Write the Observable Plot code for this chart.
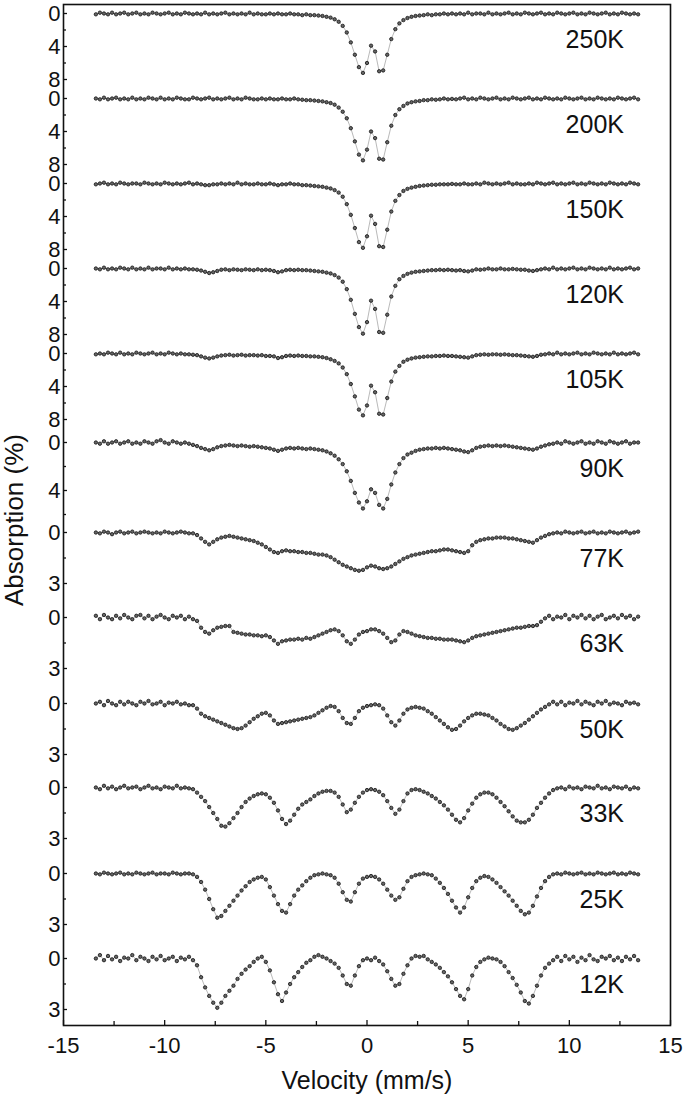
<!DOCTYPE html>
<html><head><meta charset="utf-8">
<script src="https://cdn.jsdelivr.net/npm/d3@7"></script>
<script src="https://cdn.jsdelivr.net/npm/@observablehq/plot@0.6"></script>
<style>body{margin:0;background:#fff}</style>
</head><body><div id="chart"></div>
<script>
// ---------- data ----------
const temperatures = ["250K","200K","150K","120K","105K","90K","77K","63K","50K","33K","25K","12K"];

const velocity = [
-13.4,-13.2,-13.0,-12.8,-12.6,-12.4,-12.2,-12.0,-11.8,-11.6,
-11.4,-11.2,-11.0,-10.8,-10.6,-10.4,-10.2,-10.0,-9.8,-9.6,
-9.4,-9.2,-9.0,-8.8,-8.6,-8.4,-8.2,-8.0,-7.8,-7.6,
-7.4,-7.2,-7.0,-6.8,-6.6,-6.4,-6.2,-6.0,-5.8,-5.6,
-5.4,-5.2,-5.0,-4.8,-4.6,-4.4,-4.2,-4.0,-3.8,-3.6,
-3.4,-3.2,-3.0,-2.8,-2.6,-2.4,-2.2,-2.0,-1.8,-1.6,
-1.4,-1.2,-1.0,-0.8,-0.6,-0.4,-0.2,0.0,0.2,0.4,
0.6,0.8,1.0,1.2,1.4,1.6,1.8,2.0,2.2,2.4,
2.6,2.8,3.0,3.2,3.4,3.6,3.8,4.0,4.2,4.4,
4.6,4.8,5.0,5.2,5.4,5.6,5.8,6.0,6.2,6.4,
6.6,6.8,7.0,7.2,7.4,7.6,7.8,8.0,8.2,8.4,
8.6,8.8,9.0,9.2,9.4,9.6,9.8,10.0,10.2,10.4,
10.6,10.8,11.0,11.2,11.4,11.6,11.8,12.0,12.2,12.4,
12.6,12.8,13.0,13.2,13.4];

const a250 = [
0.1,-0.1,0.0,0.1,-0.1,0.1,0.0,-0.1,0.1,0.0,
-0.1,0.1,0.0,0.1,-0.1,0.0,0.1,0.0,-0.1,0.1,
0.0,0.1,-0.1,0.0,0.1,0.0,0.1,-0.1,0.1,0.0,
0.1,0.0,-0.1,0.1,0.0,0.1,0.0,0.1,-0.1,0.1,
0.0,0.1,0.1,0.0,0.1,0.0,0.1,0.1,0.0,0.1,
0.1,0.2,0.1,0.2,0.2,0.25,0.3,0.4,0.5,0.7,
1.0,1.5,2.3,3.5,5.0,6.5,7.2,6.0,3.9,4.6,
7.0,6.9,5.0,3.1,1.9,1.2,0.8,0.55,0.4,0.3,
0.25,0.2,0.1,0.2,0.1,0.1,0.0,0.1,0.0,0.1,
0.0,0.1,-0.1,0.1,0.0,0.0,0.1,-0.1,0.1,0.0,
0.1,0.0,-0.1,0.1,0.0,0.1,-0.1,0.0,0.1,0.0,
-0.1,0.1,0.0,0.1,-0.1,0.0,0.1,0.0,-0.1,0.1,
0.0,0.1,-0.1,0.0,0.1,0.0,-0.1,0.1,0.0,0.1,
-0.1,0.0,0.1,0.0,0.1];

const a200 = [
0.0,0.1,-0.1,0.1,0.0,-0.1,0.1,0.0,0.1,-0.1,
0.1,0.0,0.1,-0.1,0.0,0.1,-0.1,0.1,0.0,0.1,
-0.1,0.0,0.1,0.1,-0.1,0.0,0.1,0.0,-0.1,0.1,
0.0,0.1,0.0,-0.1,0.1,0.0,0.1,-0.1,0.0,0.1,
0.1,0.0,0.1,0.0,0.1,0.1,0.0,0.1,0.1,0.0,
0.1,0.15,0.2,0.2,0.25,0.3,0.35,0.45,0.55,0.75,
1.1,1.6,2.4,3.6,5.2,6.8,7.5,6.2,4.0,4.8,
7.3,7.4,5.3,3.3,2.0,1.3,0.9,0.6,0.45,0.35,
0.3,0.2,0.2,0.1,0.15,0.1,0.0,0.1,0.05,0.1,
0.0,-0.1,0.1,0.0,0.1,-0.1,0.0,0.1,0.0,-0.1,
0.1,0.0,0.1,-0.1,0.0,0.1,0.0,-0.1,0.1,0.0,
0.1,-0.1,0.0,0.1,0.0,0.1,-0.1,0.0,0.1,0.0,
-0.1,0.1,0.0,0.1,-0.1,0.0,0.1,0.0,0.1,-0.1,
0.0,0.1,0.0,-0.1,0.1];

const a150 = [
0.1,0.0,-0.1,0.1,0.0,0.1,-0.1,0.0,0.1,0.0,
0.0,0.1,-0.1,0.0,0.1,0.0,0.1,-0.1,0.0,0.1,
0.0,0.1,0.0,-0.1,0.1,0.0,0.1,0.2,0.2,0.1,
0.1,0.0,0.1,0.0,0.1,-0.1,0.1,0.0,0.1,0.1,
0.0,0.1,0.1,0.0,0.1,0.2,0.1,0.1,0.0,0.1,
0.1,0.2,0.2,0.25,0.3,0.35,0.4,0.5,0.6,0.8,
1.1,1.6,2.5,3.8,5.4,7.1,7.8,6.4,3.9,4.9,
7.6,7.7,5.6,3.4,2.1,1.4,0.9,0.65,0.5,0.4,
0.3,0.25,0.2,0.15,0.15,0.1,0.1,0.1,0.05,0.1,
0.1,0.0,0.1,0.1,0.0,0.1,-0.1,0.0,0.1,0.0,
0.1,0.0,-0.1,0.1,0.0,0.1,0.1,0.0,0.1,-0.1,
0.0,0.1,0.0,-0.1,0.1,0.0,0.1,0.0,-0.1,0.1,
0.0,0.1,-0.1,0.0,0.1,0.0,0.1,-0.1,0.0,0.1,
0.0,0.1,-0.1,0.0,0.1];

const a120 = [
0.0,0.1,-0.1,0.1,0.0,0.1,-0.1,0.0,0.1,-0.1,
0.1,0.0,0.1,-0.1,0.1,0.0,0.0,0.1,-0.1,0.1,
0.0,0.1,0.0,0.1,0.1,0.15,0.25,0.4,0.55,0.45,
0.3,0.15,0.1,0.2,0.1,0.15,0.2,0.1,0.15,0.2,
0.1,0.2,0.15,0.2,0.3,0.45,0.35,0.2,0.15,0.2,
0.15,0.2,0.2,0.25,0.3,0.35,0.4,0.5,0.6,0.8,
1.1,1.6,2.5,3.8,5.5,7.1,7.9,6.5,3.9,4.9,
7.7,7.8,5.6,3.4,2.1,1.3,0.9,0.65,0.5,0.4,
0.35,0.3,0.25,0.2,0.2,0.15,0.2,0.15,0.2,0.25,
0.2,0.3,0.35,0.25,0.1,0.15,0.1,0.0,0.1,0.1,
0.0,0.1,0.1,0.05,0.1,0.15,0.15,0.25,0.3,0.2,
0.1,0.0,0.1,-0.1,0.1,0.0,0.1,0.0,-0.1,0.1,
0.0,0.1,-0.1,0.0,0.1,0.0,0.1,-0.1,0.1,0.0,
0.1,0.0,-0.1,0.1,0.0];

const a105 = [
0.1,0.0,0.1,-0.1,0.0,0.1,-0.1,0.1,0.0,0.1,
-0.1,0.0,0.1,0.0,-0.1,0.1,0.0,0.1,-0.1,0.0,
0.1,0.0,0.1,0.1,0.15,0.2,0.35,0.5,0.6,0.5,
0.35,0.25,0.2,0.15,0.25,0.2,0.15,0.25,0.2,0.2,
0.25,0.2,0.3,0.3,0.35,0.55,0.45,0.3,0.25,0.3,
0.25,0.3,0.3,0.35,0.35,0.4,0.45,0.55,0.7,0.9,
1.2,1.7,2.5,3.7,5.2,6.8,7.5,6.3,3.9,4.7,
7.3,7.4,5.4,3.4,2.2,1.5,1.0,0.75,0.6,0.5,
0.45,0.4,0.35,0.35,0.3,0.3,0.25,0.3,0.3,0.35,
0.4,0.45,0.5,0.35,0.2,0.15,0.1,0.15,0.1,0.1,
0.15,0.1,0.15,0.2,0.2,0.25,0.3,0.35,0.4,0.3,
0.15,0.1,0.0,0.1,-0.1,0.1,0.0,0.1,0.0,-0.1,
0.1,0.0,0.1,-0.1,0.0,0.1,0.0,0.1,-0.1,0.1,
0.0,0.1,0.0,-0.1,0.1];

const a90 = [
0.0,0.1,-0.1,0.1,0.0,-0.1,0.1,0.0,-0.1,0.1,
0.0,0.1,-0.1,0.0,0.1,-0.1,-0.2,0.0,0.1,-0.1,
0.0,0.1,0.0,0.1,0.2,0.3,0.45,0.55,0.65,0.55,
0.4,0.3,0.25,0.2,0.25,0.3,0.25,0.3,0.35,0.3,
0.35,0.4,0.45,0.5,0.6,0.7,0.6,0.5,0.45,0.5,
0.45,0.5,0.55,0.5,0.55,0.6,0.65,0.75,0.9,1.1,
1.4,1.8,2.4,3.2,4.2,5.0,5.5,4.9,3.9,4.2,
5.2,5.5,4.7,3.5,2.5,1.8,1.3,1.0,0.85,0.7,
0.6,0.55,0.5,0.5,0.45,0.5,0.45,0.5,0.55,0.6,
0.65,0.75,0.8,0.65,0.45,0.35,0.3,0.25,0.3,0.25,
0.3,0.25,0.3,0.35,0.4,0.45,0.5,0.55,0.6,0.5,
0.35,0.25,0.15,0.1,0.0,0.1,-0.1,0.0,0.1,0.0,
-0.1,0.1,0.0,0.1,-0.1,0.0,0.1,-0.1,0.0,0.1,
0.0,-0.1,0.1,0.0,0.0];

const a77 = [
0.0,0.05,-0.05,0.0,0.1,0.0,-0.05,0.05,0.0,-0.05,
0.05,0.0,-0.05,0.0,0.05,0.0,0.05,-0.05,0.0,0.05,
0.0,-0.05,0.0,0.05,0.05,0.15,0.35,0.55,0.7,0.55,
0.4,0.3,0.25,0.2,0.25,0.3,0.35,0.4,0.45,0.5,
0.6,0.7,0.85,1.0,1.15,1.2,1.1,1.05,1.1,1.1,
1.15,1.15,1.2,1.2,1.25,1.3,1.3,1.35,1.45,1.6,
1.75,1.9,2.0,2.1,2.2,2.25,2.2,2.05,1.95,2.0,
2.1,2.15,2.1,2.0,1.85,1.7,1.55,1.45,1.35,1.3,
1.25,1.2,1.15,1.1,1.1,1.05,1.0,1.0,1.05,1.1,
1.15,1.2,1.1,0.75,0.55,0.45,0.4,0.35,0.35,0.3,
0.3,0.3,0.35,0.35,0.4,0.45,0.5,0.55,0.6,0.45,
0.3,0.2,0.1,0.05,0.0,0.05,-0.05,0.0,0.05,0.0,
-0.05,0.05,0.0,-0.05,0.05,0.0,0.05,-0.05,0.0,0.05,
0.0,-0.05,0.05,0.0,-0.05];

const a63 = [
-0.1,0.1,-0.15,0.0,0.1,-0.1,0.05,-0.15,0.0,0.1,
-0.1,-0.15,0.05,-0.1,0.1,-0.05,-0.15,0.0,0.1,-0.1,
0.0,-0.1,0.1,-0.05,0.1,0.2,0.6,0.85,0.95,0.75,
0.6,0.55,0.5,0.5,0.85,0.9,0.95,1.0,1.0,1.05,
1.05,1.1,1.05,1.15,1.35,1.55,1.4,1.35,1.3,1.3,
1.25,1.3,1.2,1.25,1.15,1.05,0.95,0.85,0.75,0.7,
0.8,1.05,1.4,1.55,1.3,1.0,0.85,0.8,0.7,0.7,
0.8,0.95,1.2,1.45,1.35,1.0,0.8,0.85,0.95,1.05,
1.1,1.15,1.2,1.2,1.25,1.25,1.3,1.3,1.3,1.35,
1.4,1.45,1.35,1.2,1.1,1.05,1.0,0.95,0.9,0.85,
0.8,0.75,0.7,0.65,0.6,0.6,0.55,0.5,0.5,0.45,
0.25,0.05,-0.1,0.1,-0.05,0.0,-0.15,0.1,-0.1,0.0,
-0.15,0.05,-0.1,0.1,-0.05,-0.15,0.1,0.0,-0.1,0.05,
-0.15,0.0,-0.1,0.1,-0.05];

const a50 = [
0.0,-0.1,0.1,-0.15,0.0,0.1,-0.1,0.05,-0.1,0.0,
0.1,-0.1,0.0,-0.15,0.05,0.0,-0.1,0.1,-0.05,0.0,
-0.1,0.05,0.0,0.1,0.1,0.3,0.6,0.75,0.85,0.95,
1.05,1.15,1.25,1.35,1.45,1.5,1.45,1.3,1.1,0.9,
0.75,0.6,0.55,0.7,1.0,1.2,1.15,1.1,1.05,1.0,
0.95,0.9,0.85,0.8,0.7,0.55,0.4,0.25,0.15,0.2,
0.45,0.85,1.15,1.2,0.85,0.45,0.25,0.15,0.1,0.05,
0.1,0.3,0.7,1.1,1.3,1.0,0.6,0.35,0.25,0.2,
0.25,0.3,0.45,0.6,0.8,1.0,1.2,1.4,1.55,1.5,
1.3,1.05,0.85,0.7,0.6,0.6,0.65,0.7,0.85,1.0,
1.2,1.35,1.5,1.55,1.45,1.3,1.15,0.95,0.75,0.55,
0.35,0.2,0.05,-0.1,0.05,-0.1,0.1,-0.05,0.0,-0.15,
0.05,-0.1,0.0,0.1,-0.1,0.0,-0.15,0.05,-0.05,0.0,
0.1,-0.1,0.0,-0.05,0.05];

const a33 = [
0.0,0.1,-0.1,0.05,-0.05,0.1,0.0,-0.1,0.05,0.0,
-0.05,0.1,0.0,-0.1,0.05,0.0,0.1,-0.05,0.0,0.05,
-0.1,0.05,0.0,0.05,0.1,0.3,0.55,0.8,1.15,1.5,
1.85,2.25,2.3,2.1,1.8,1.5,1.15,0.85,0.65,0.5,
0.4,0.35,0.4,0.6,0.9,1.35,1.85,2.15,1.95,1.6,
1.25,1.0,0.85,0.7,0.5,0.35,0.25,0.2,0.2,0.3,
0.55,1.0,1.45,1.3,0.9,0.55,0.3,0.15,0.1,0.15,
0.25,0.45,0.8,1.2,1.55,1.3,0.8,0.35,0.15,0.1,
0.15,0.25,0.35,0.5,0.65,0.85,1.05,1.3,1.6,1.9,
2.05,1.8,1.35,0.95,0.6,0.4,0.3,0.3,0.4,0.6,
0.85,1.1,1.4,1.7,1.95,2.05,2.05,1.9,1.6,1.2,
0.9,0.6,0.35,0.15,0.05,0.0,0.1,-0.05,0.05,0.0,
0.1,-0.05,0.0,0.05,-0.1,0.05,0.0,0.1,-0.05,0.0,
0.05,-0.05,0.1,0.0,0.05];

const a25 = [
0.0,0.05,-0.05,0.0,0.05,0.0,-0.05,0.05,0.0,0.05,
-0.05,0.0,0.05,0.0,-0.05,0.05,0.0,0.0,0.05,-0.05,
0.0,0.05,0.0,0.0,0.05,0.2,0.5,0.95,1.5,2.1,
2.6,2.5,2.2,1.9,1.6,1.3,1.0,0.75,0.5,0.35,
0.25,0.2,0.35,0.8,1.3,1.8,2.2,2.3,1.8,1.3,
0.95,0.7,0.45,0.25,0.1,0.05,0.0,0.05,0.1,0.25,
0.6,1.1,1.55,1.65,1.1,0.6,0.3,0.2,0.15,0.2,
0.35,0.6,0.95,1.3,1.55,1.4,0.9,0.45,0.2,0.1,
0.05,0.0,0.05,0.1,0.3,0.55,0.85,1.2,1.6,2.0,
2.3,2.0,1.4,0.85,0.45,0.25,0.15,0.2,0.35,0.55,
0.8,1.05,1.3,1.6,1.9,2.2,2.4,2.3,1.9,1.35,
0.85,0.45,0.2,0.05,0.0,0.05,-0.05,0.0,0.05,0.0,
-0.05,0.05,0.0,0.05,-0.05,0.0,0.05,0.0,-0.05,0.05,
0.0,0.05,-0.05,0.0,0.05];

const a12 = [
0.0,-0.2,0.1,-0.15,0.05,-0.1,0.15,-0.05,0.0,-0.2,
0.1,-0.1,0.0,0.15,-0.1,0.05,-0.15,0.1,0.0,-0.1,
0.15,-0.05,0.05,-0.1,0.1,0.4,1.1,1.7,2.2,2.6,
2.9,2.6,2.2,1.9,1.6,1.2,0.9,0.65,0.45,0.2,
0.0,-0.1,0.2,0.7,1.4,2.1,2.5,2.0,1.5,1.1,
0.8,0.5,0.25,0.1,-0.1,-0.2,-0.1,0.0,0.15,0.3,
0.55,1.0,1.5,1.6,1.0,0.45,0.1,0.0,0.1,-0.05,
0.15,0.35,0.75,1.2,1.6,1.5,0.9,0.4,0.0,-0.15,
-0.1,-0.15,0.05,0.2,0.35,0.55,0.8,1.05,1.4,1.8,
2.2,2.4,1.8,1.0,0.5,0.2,0.05,-0.05,0.0,0.05,
0.2,0.45,0.8,1.15,1.55,2.0,2.5,2.65,2.2,1.6,
1.0,0.55,0.3,0.1,-0.1,0.15,-0.15,0.05,-0.1,0.2,
-0.05,0.1,-0.2,0.05,0.15,-0.1,0.0,-0.15,0.1,-0.05,
0.15,-0.1,0.05,-0.15,0.1];

const spectra = [a250,a200,a150,a120,a105,a90,a77,a63,a50,a33,a25,a12];

// tick labels (absorption %) per panel
const majorTicks = [[0,4,8],[0,4,8],[0,4,8],[0,4,8],[0,4,8],[0,4],[0,3],[0,3],[0,3],[0,3],[0,3],[0,3]];
const minorTicks = [[2,6],[2,6],[2,6],[2,6],[2,6],[2,6],[1.5],[1.5],[1.5],[1.5],[1.5],[1.5]];
const xMajor = [-15,-10,-5,0,5,10,15];
const xMinor = [-12.5,-7.5,-2.5,2.5,7.5,12.5];

// ---------- layout (stacked panels on one shared vertical scale) ----------
const panelZero = [9,94,179,264,349,438,528,613,699,783,869,954]; // where each panel's 0 sits
const panelUnit = [8.25,8.25,8.25,8.25,8.25,12,17,17,17,17,17,17]; // scale units per 1 %
const labelShift = 26;
const labelVelocity = 12.7;

const W = 685, H = 1096, mL = 63, mR = 15, mT = 4, mB = 71;
const frameW = W - mL - mR;
const fontFamily = "'Liberation Sans', Arial, Helvetica, sans-serif";

const points = temperatures.flatMap((t, i) =>
  spectra[i].map((a, j) => ({t, v: velocity[j], g: panelZero[i] + a * panelUnit[i]})));
const yMajor = temperatures.flatMap((t, i) =>
  majorTicks[i].map(a => ({g: panelZero[i] + a * panelUnit[i], label: String(a)})));
const yMinor = temperatures.flatMap((t, i) =>
  minorTicks[i].map(a => ({g: panelZero[i] + a * panelUnit[i]})));
const labels = temperatures.map((t, i) => ({t, g: panelZero[i] + labelShift, v: labelVelocity}));

const chart = Plot.plot({
  width: W, height: H,
  marginLeft: mL, marginRight: mR, marginTop: mT, marginBottom: mB,
  style: {fontFamily, background: "#fff", color: "#111"},
  x: {domain: [-15, 15], axis: null},
  y: {domain: [0, H - mT - mB], reverse: true, axis: null},
  marks: [
    Plot.tickX(xMajor, {x: d => d, insetTop: (H - mT - mB) - 5, stroke: "#111", strokeWidth: 1.3}),
    Plot.tickX(xMinor, {x: d => d, insetTop: (H - mT - mB) - 4, stroke: "#111", strokeWidth: 1.3}),
    Plot.tickY(yMajor, {y: "g", insetRight: frameW - 4, stroke: "#111", strokeWidth: 1.3}),
    Plot.tickY(yMinor, {y: "g", insetRight: frameW - 3, stroke: "#111", strokeWidth: 1.3}),
    Plot.text(xMajor, {x: d => d, text: d => String(d), frameAnchor: "bottom", lineAnchor: "middle", textAnchor: "middle", dy: 20, fontSize: 22}),
    Plot.text(yMajor, {y: "g", text: "label", frameAnchor: "left", textAnchor: "end", lineAnchor: "middle", dx: -3, fontSize: 22}),
    Plot.text(["Velocity (mm/s)"], {frameAnchor: "bottom", lineAnchor: "middle", textAnchor: "middle", dy: 55, fontSize: 25}),
    Plot.text(["Absorption (%)"], {frameAnchor: "left", lineAnchor: "middle", textAnchor: "middle", dx: -49, dy: 5, rotate: -90, fontSize: 26}),
    Plot.line(points, {x: "v", y: "g", z: "t", stroke: "#8a8a8a", strokeWidth: 0.6}),
    Plot.dot(points, {x: "v", y: "g", r: 1.7, stroke: "#111", strokeWidth: 0.8, fill: "#666"}),
    Plot.text(labels, {x: "v", y: "g", text: "t", textAnchor: "end", lineAnchor: "middle", fontSize: 25}),
    Plot.frame({stroke: "#111", strokeWidth: 1.6})
  ]
});
document.getElementById("chart").appendChild(chart);
</script>
</body></html>
